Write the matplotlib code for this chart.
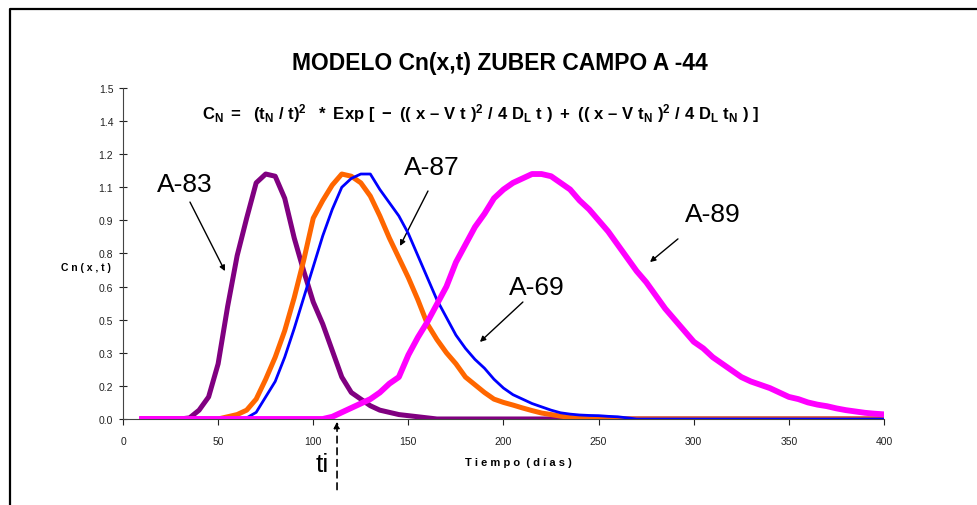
import numpy as np
import matplotlib
matplotlib.use('Agg')
from matplotlib import pyplot as plt
from matplotlib.lines import Line2D

plt.rcParams['font.family'] = ['Liberation Sans', 'DejaVu Sans']
plt.rcParams['mathtext.fontset'] = 'custom'
plt.rcParams['mathtext.rm'] = 'Liberation Sans:bold'
plt.rcParams['mathtext.it'] = 'Liberation Sans:bold'
plt.rcParams['mathtext.bf'] = 'Liberation Sans:bold'

# dias (cada 5 dias, de 10 a 400)
dias = list(range(10, 405, 5))

# A-83 (morado)
a83 = [0, 0, 0, 0, 0, 0.005, 0.04, 0.10, 0.25, 0.51, 0.74, 0.91, 1.07, 1.11, 1.10, 1.00,
       0.82, 0.67, 0.53, 0.43, 0.31, 0.19, 0.12, 0.09, 0.06, 0.04, 0.03, 0.02, 0.015, 0.01,
       0.005, 0,
       0, 0, 0, 0, 0, 0, 0, 0, 0, 0, 0, 0, 0, 0, 0, 0, 0, 0, 0, 0, 0, 0, 0, 0,
       0, 0, 0, 0, 0, 0, 0, 0, 0, 0, 0, 0, 0, 0, 0, 0, 0, 0, 0, 0, 0, 0, 0]
# A-87 (naranja)
a87 = [0, 0, 0, 0, 0, 0, 0, 0,
       0, 0.01, 0.02, 0.04, 0.09, 0.18, 0.28, 0.40, 0.55, 0.72, 0.91, 0.99, 1.06, 1.11,
       1.10, 1.07, 1.01, 0.92, 0.82, 0.73, 0.64, 0.54, 0.43, 0.36, 0.30, 0.25, 0.19, 0.155,
       0.12, 0.09, 0.075, 0.063, 0.05, 0.038, 0.027, 0.02, 0.013, 0.007, 0.003, 0,
       0, 0, 0, 0, 0, 0, 0, 0, 0, 0, 0, 0, 0, 0, 0, 0, 0, 0, 0, 0, 0, 0, 0, 0,
       0, 0, 0, 0, 0, 0, 0]
# A-69 (azul)
a69 = [0, 0, 0, 0, 0, 0, 0, 0, 0, 0,
       0, 0.005, 0.03, 0.10, 0.17, 0.28, 0.41, 0.55, 0.69, 0.83, 0.95, 1.05, 1.09, 1.11,
       1.11, 1.04, 0.98, 0.92, 0.84, 0.74, 0.64, 0.54, 0.46, 0.38, 0.32, 0.27, 0.23, 0.18,
       0.14, 0.11, 0.09, 0.07, 0.055, 0.04, 0.028, 0.022, 0.018, 0.016, 0.015, 0.012, 0.01,
       0.005, 0,
       0, 0, 0, 0, 0, 0, 0, 0, 0, 0, 0, 0, 0, 0, 0, 0, 0, 0, 0, 0, 0, 0, 0, 0, 0, 0]
# A-89 (magenta)
a89 = [0, 0, 0, 0, 0, 0, 0, 0, 0, 0, 0, 0, 0, 0, 0, 0, 0, 0, 0, 0,
       0.01, 0.03, 0.05, 0.07, 0.09, 0.12, 0.16, 0.19, 0.29, 0.37, 0.44, 0.52, 0.60, 0.71,
       0.79, 0.87, 0.93, 1.00, 1.04, 1.07, 1.09, 1.11, 1.11, 1.10, 1.07, 1.04, 0.99, 0.95,
       0.90, 0.85, 0.79, 0.73, 0.67, 0.62, 0.56, 0.50, 0.45, 0.40, 0.35, 0.32, 0.28, 0.25,
       0.22, 0.19, 0.17, 0.155, 0.14, 0.12, 0.10, 0.09, 0.075, 0.065, 0.058, 0.048, 0.04,
       0.034, 0.028, 0.024, 0.021]

yticks = [0, 0.15, 0.3, 0.45, 0.6, 0.75, 0.9, 1.05, 1.2, 1.35, 1.5]
yticklabels = ['0.0', '0.2', '0.3', '0.5', '0.6', '0.8', '0.9', '1.1', '1.2', '1.4', '1.5']
xticks = [0, 50, 100, 150, 200, 250, 300, 350, 400]

fig = plt.figure(figsize=(9.77, 5.06), dpi=100)
ax = fig.add_axes([0.1259, 0.17, 0.7789, 0.6542])

ax.plot(dias, a83, color='#800080', lw=3.6, solid_joinstyle='round', zorder=3)
ax.plot(dias, a87, color='#FF6600', lw=3.6, solid_joinstyle='round', zorder=4)
ax.plot(dias, a69, color='#0000FF', lw=2.0, solid_joinstyle='round', zorder=5)
ax.plot(dias, a89, color='#FF00FF', lw=4.2, solid_joinstyle='round', zorder=6)

ax.set_xlim(0, 400)
ax.set_ylim(0, 1.5)
ax.set_xticks(xticks)
ax.set_yticks(yticks)
ax.set_yticklabels(yticklabels)
ax.tick_params(axis='both', labelsize=7.5, colors='#222222', width=0.8)
ax.tick_params(axis='x', direction='out', length=4, pad=8)
ax.tick_params(axis='y', direction='inout', length=6, pad=4)
ax.spines['top'].set_visible(False)
ax.spines['right'].set_visible(False)
ax.spines['left'].set_color('#444444')
ax.spines['bottom'].set_color('#444444')
for s in ['left', 'bottom']:
    ax.spines[s].set_linewidth(0.8)

# titulo y formula
fig.text(0.512, 0.875, 'MODELO Cn(x,t) ZUBER CAMPO A -44', ha='center', va='center',
         fontsize=16.5, fontweight='bold')
formula = (r'$C_N\ =\ \ (t_N\ /\ t)^2\ \ *\ Exp\ [\ -\ ((\ x\ –\ V\ t\ )^2\ /\ 4\ D_L\ t\ )'
           r'\ +\ ((\ x\ –\ V\ t_N\ )^2\ /\ 4\ D_L\ t_N\ )\ ]$')
ax.text(0.47, 0.925, formula, transform=ax.transAxes, ha='center', va='center', fontsize=12)

fig.text(0.088, 0.47, 'C n ( x , t )', ha='center', va='center', fontsize=7.5, fontweight='bold')
fig.text(0.531, 0.085, 'T i e m p o  ( d í a s )', ha='center', va='center', fontsize=8,
         fontweight='bold')

# etiquetas de pozos con flechas
arr = dict(arrowstyle='-|>', color='black', lw=1.0, mutation_scale=8, shrinkA=0, shrinkB=0)
ax.annotate('', xy=(53.6, 0.67), xytext=(35.2, 0.983), arrowprops=arr)
ax.text(32.6, 1.065, 'A-83', ha='center', va='center', fontsize=19)
ax.annotate('', xy=(145.6, 0.784), xytext=(160.3, 1.033), arrowprops=arr)
ax.text(162.4, 1.142, 'A-87', ha='center', va='center', fontsize=19)
ax.annotate('', xy=(187.6, 0.349), xytext=(210.2, 0.53), arrowprops=arr)
ax.text(217.6, 0.598, 'A-69', ha='center', va='center', fontsize=19)
ax.annotate('', xy=(277.0, 0.711), xytext=(291.7, 0.816), arrowprops=arr)
ax.text(310.1, 0.929, 'A-89', ha='center', va='center', fontsize=19)

# ti
ax.text(104.6, -0.204, 'ti', ha='center', va='center', fontsize=19, clip_on=False)
ax.annotate('', xy=(112.5, -0.012), xytext=(112.5, -0.32), annotation_clip=False,
            arrowprops=dict(arrowstyle='-|>', color='black', lw=1.2, linestyle=(0, (4, 3)),
                            mutation_scale=9, shrinkA=0, shrinkB=0))

# marco exterior del grafico
fig.add_artist(Line2D([0.0102, 0.0102, 1.0], [0.0, 0.9802, 0.9802], color='black', lw=1.6))

fig.savefig('out.png', dpi=100)
